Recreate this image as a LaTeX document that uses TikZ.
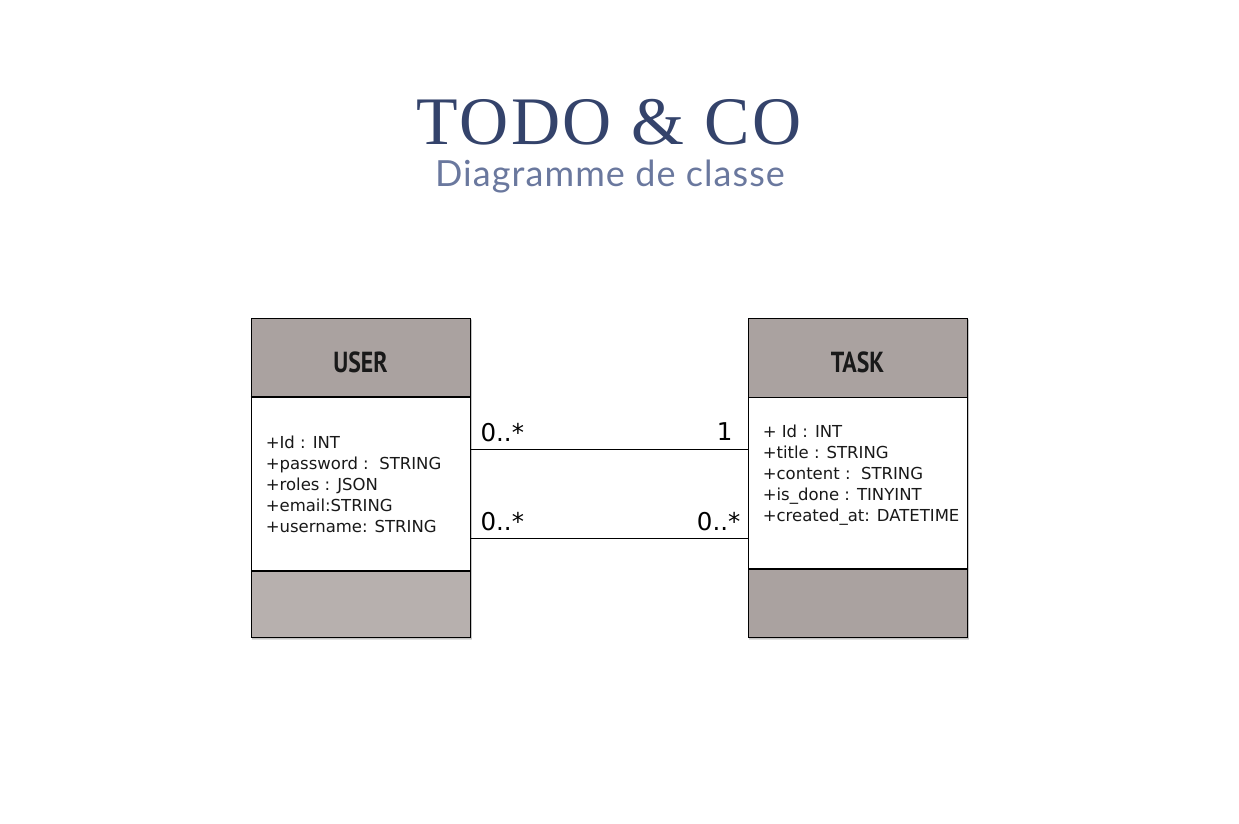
\documentclass[tikz,border=0pt]{standalone}
\usepackage{fontspec}
\setmainfont{DejaVu Sans}
\newfontfamily\titlefont[LetterSpace=4]{Liberation Serif}
\newfontfamily\subfont[LetterSpace=3]{Lato}
\newfontfamily\headfont[FakeStretch=0.82]{PT Sans}
\usetikzlibrary{calc}
\definecolor{titleblue}{HTML}{34436B}
\definecolor{subblue}{HTML}{6A789E}
\definecolor{headgray}{HTML}{AAA2A0}
\definecolor{footgrayA}{HTML}{B7B0AE}
\definecolor{footgrayB}{HTML}{AAA2A0}
\tikzset{
  classframe/.style={draw=black, line width=0.9pt, fill=white, minimum width=219pt, minimum height=318pt, inner sep=0pt},
  shadowbox/.style={fill=black, opacity=0.12},
  part/.style={draw=black, line width=0.8pt, minimum width=219pt, inner sep=0pt, anchor=north},
  headpart/.style={part, fill=headgray, minimum height=79pt, text height=30pt, text depth=0pt, font=\headfont\bfseries\fontsize{29}{29}\selectfont, text=black!90},
  bodypart/.style={part, fill=white},
  attrs/.style={anchor=north west, inner sep=0pt, align=left, font=\fontsize{16.5}{21}\selectfont, text=black!90},
  assoc/.style={draw=black, line width=0.8pt},
  mult/.style={inner sep=0pt, font=\fontsize{24.5}{24.5}\selectfont, text=black}
}
\begin{document}
\begin{tikzpicture}[x=1pt,y=-1pt]
\useasboundingbox (0,0) rectangle (1239,824);

% title block
\node[anchor=base, inner sep=0pt, text=titleblue, font=\titlefont\fontsize{68}{68}\selectfont] (title) at (609,145) {TODO \& CO};
\node[anchor=base, inner sep=0pt, text=subblue, font=\subfont\fontsize{36}{36}\selectfont] (subtitle) at (610,186) {Diagramme de classe};

% soft shadows under both classes
\foreach \cx in {360.5,857.5}{
  \fill[shadowbox] (\cx-108.5,320) rectangle (\cx+111.5,640);
  \fill[shadowbox] (\cx-109,319) rectangle (\cx+111,638.5);
}

% class USER
\node[classframe] (user) at (360.5,477) {};
\node[headpart] (userhead) at (user.north) {USER};
\node[bodypart, minimum height=173pt] (userbody) at (userhead.south) {};
\node[part, fill=footgrayA, minimum height=66pt] (userfoot) at (userbody.south) {};
\draw[line width=1.8pt] (userhead.south west) -- (userhead.south east);
\node[attrs] (userattrs) at ($(userbody.north west)+(15,38)$)
  {+Id : INT\\+password :\ \ STRING\\+roles : JSON\\+email:STRING\\+username: STRING};

% class TASK
\node[classframe] (task) at (857.5,477) {};
\node[headpart] (taskhead) at (task.north) {TASK};
\node[bodypart, minimum height=171pt] (taskbody) at (taskhead.south) {};
\node[part, fill=footgrayB, minimum height=68pt] (taskfoot) at (taskbody.south) {};
\node[attrs] (taskattrs) at ($(taskbody.north west)+(15,27)$)
  {+ Id : INT\\+title : STRING\\+content :\ \ STRING\\+is\_done : TINYINT\\+created\_at: DATETIME};

% associations
\draw[assoc] (userbody.north east) ++(0,52) coordinate (a1) -- (a1 -| taskbody.west) coordinate (b1);
\draw[assoc] (userbody.north east) ++(0,141) coordinate (a2) -- (a2 -| taskbody.west) coordinate (b2);

% multiplicities
\node[mult, anchor=base west] (m1) at ($(a1)+(10,-8)$) {0..*};
\node[mult, anchor=base east] (m2) at ($(b1)+(-15,-9)$) {1};
\node[mult, anchor=base west] (m3) at ($(a2)+(10,-8)$) {0..*};
\node[mult, anchor=base east] (m4) at ($(b2)+(-7,-8)$) {0..*};
\end{tikzpicture}
\end{document}
